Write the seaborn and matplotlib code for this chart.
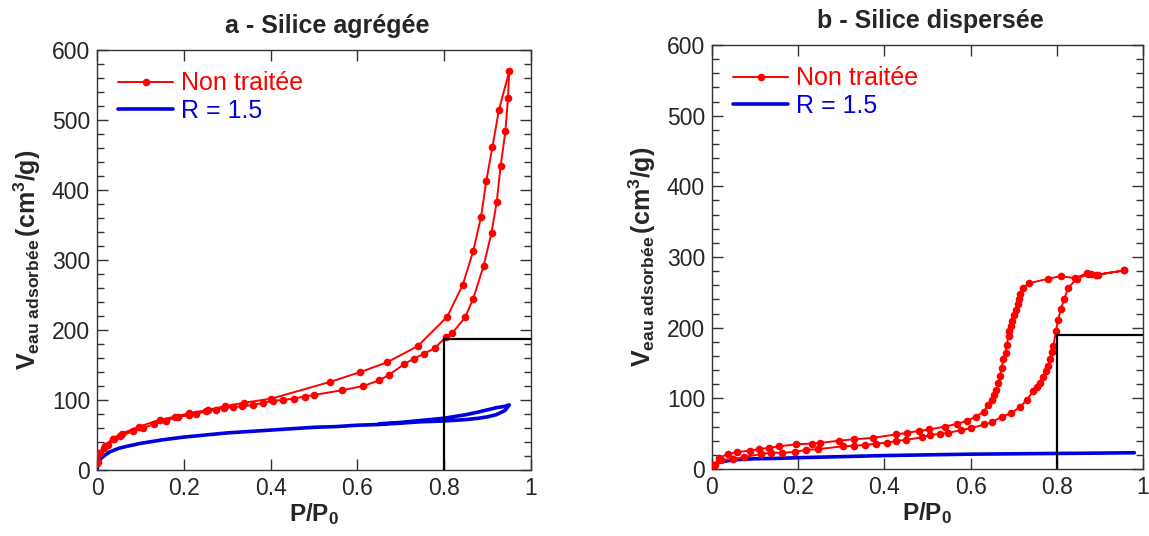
import numpy as np
import pandas as pd
import matplotlib
matplotlib.use("Agg")
import matplotlib.pyplot as plt
from matplotlib.ticker import MultipleLocator, FuncFormatter
import seaborn as sns

# ---------------- data ----------------
# Panel a - Silice agrégée, "Non traitée" (adsorption then desorption)
a_red_ads_x = [0.001, 0.005, 0.015, 0.026, 0.039, 0.054, 0.084, 0.107, 0.132, 0.159,
               0.187, 0.211, 0.228, 0.252, 0.275, 0.293, 0.314, 0.335, 0.360, 0.383,
               0.406, 0.429, 0.453, 0.479, 0.499, 0.565, 0.614, 0.650, 0.673, 0.707,
               0.730, 0.753, 0.778, 0.804, 0.819, 0.848, 0.867, 0.891, 0.909, 0.921,
               0.930, 0.941, 0.947]
a_red_ads_y = [10, 24, 31, 36, 44, 48, 56, 60, 66, 70,
               76, 78, 80, 84, 86, 89, 90, 91, 93, 96,
               99, 100, 102, 105, 107, 114, 120, 128, 136, 151,
               159, 166, 174, 190, 196, 218, 245, 292, 339, 383,
               434, 484, 532]
a_red_des_x = [0.950, 0.926, 0.911, 0.897, 0.885, 0.867, 0.843, 0.807, 0.739, 0.669,
               0.607, 0.538, 0.402, 0.338, 0.294, 0.256, 0.212, 0.179, 0.146, 0.097,
               0.057, 0.036, 0.018, 0.007, 0.002]
a_red_des_y = [570, 514, 461, 413, 362, 313, 265, 219, 177, 154,
               140, 126, 102, 96, 91, 86, 81, 76, 72, 62,
               52, 45, 34, 24, 12]

# Panel a, "R = 1.5"
a_blue_ads_x = [0, 0.002, 0.005, 0.01, 0.02, 0.03, 0.05, 0.07, 0.1, 0.15, 0.2, 0.25, 0.3,
                0.35, 0.4, 0.45, 0.5, 0.55, 0.6, 0.65, 0.7, 0.75, 0.8, 0.85, 0.88, 0.9,
                0.92, 0.94, 0.95]
a_blue_ads_y = [0, 8, 13, 17, 22, 26, 31, 34, 38, 43, 47, 50, 53, 55, 57, 59, 61, 62,
                64, 65, 67, 69, 70, 72, 74, 76, 79, 85, 93]
a_blue_des_x = [0.95, 0.94, 0.92, 0.9, 0.88, 0.85, 0.8, 0.75, 0.7, 0.65]
a_blue_des_y = [93, 91, 89, 86, 83, 79, 74, 71, 68, 66]

# Panel b - Silice dispersée, "Non traitée"
b_red_ads_x = [0.007, 0.022, 0.048, 0.075, 0.113, 0.136, 0.162, 0.192, 0.217, 0.245,
               0.303, 0.330, 0.356, 0.380, 0.405, 0.428, 0.450, 0.487, 0.506, 0.529,
               0.547, 0.578, 0.602, 0.632, 0.649, 0.672, 0.694, 0.715, 0.731, 0.745,
               0.753, 0.761, 0.768, 0.775, 0.780, 0.784, 0.788, 0.792, 0.798, 0.803,
               0.809, 0.817, 0.826, 0.846, 0.873, 0.892, 0.957]
b_red_ads_y = [6, 13, 14, 17, 21, 23, 23, 24, 27, 28,
               32, 33, 34, 36, 37, 40, 41, 45, 48, 50,
               51, 55, 58, 63, 66, 74, 79, 88, 98, 110,
               116, 122, 130, 138, 146, 155, 165, 174, 195, 211,
               226, 240, 256, 269, 276, 275, 281]
b_red_des_x = [0.957, 0.896, 0.879, 0.870, 0.842, 0.809, 0.779, 0.736, 0.722, 0.715,
               0.712, 0.709, 0.705, 0.701, 0.697, 0.693, 0.690, 0.688, 0.684, 0.681,
               0.676, 0.672, 0.668, 0.664, 0.660, 0.655, 0.649, 0.640, 0.630, 0.612,
               0.591, 0.569, 0.541, 0.504, 0.480, 0.452, 0.427, 0.373, 0.329, 0.295,
               0.251, 0.233, 0.195, 0.156, 0.132, 0.108, 0.088, 0.059, 0.036, 0.017,
               0.005]
b_red_des_y = [281, 275, 276, 277, 270, 273, 269, 263, 256, 247,
               240, 233, 225, 218, 210, 202, 195, 188, 176, 164,
               155, 143, 131, 121, 112, 105, 98, 90, 81, 74,
               68, 64, 60, 56, 54, 51, 49, 44, 42, 40,
               37, 36, 35, 32, 30, 28, 26, 24, 21, 16,
               5]

# Panel b, "R = 1.5"
b_blue_x = [0, 0.005, 0.01, 0.02, 0.03, 0.05, 0.08, 0.1, 0.15, 0.2, 0.3, 0.4, 0.5,
            0.6, 0.7, 0.8, 0.9, 0.98]
b_blue_y = [0, 5, 8, 10, 11, 13, 14, 14.5, 15, 16, 17.5, 19, 20, 21, 21.5, 22, 22.5, 23]

# black corner marks (zoom box outline)
box_x = [0.8, 0.8, 1.0]
box_a_y = [0, 187, 187]
box_b_y = [0, 189, 189]

titles = ["a - Silice agrégée", "b - Silice dispersée"]
legend_labels = ["Non traitée", "R = 1.5"]
xticks = [0, 0.2, 0.4, 0.6, 0.8, 1.0]
yticks = [0, 100, 200, 300, 400, 500, 600]

RED = "#ff0000"
BLUE = "#0000dd"

# ---------------- style ----------------
sns.set_style("ticks")
plt.rcParams["font.family"] = ["Liberation Sans", "DejaVu Sans"]
plt.rcParams["mathtext.fontset"] = "custom"
plt.rcParams["mathtext.rm"] = "Liberation Sans"
plt.rcParams["mathtext.bf"] = "Liberation Sans:bold"
plt.rcParams["mathtext.it"] = "Liberation Sans:italic"

fig = plt.figure(figsize=(11.49, 5.36), dpi=100)
ax_a = fig.add_axes([97 / 1149, 66 / 536, 434 / 1149, 420 / 536])
ax_b = fig.add_axes([712 / 1149, 67 / 536, 431 / 1149, 424 / 536])


def loop_df(x1, y1, x2, y2):
    return pd.DataFrame({"x": list(x1) + list(x2), "y": list(y1) + list(y2)})


def draw(ax, red_df, blue_df, box_y, title, title_x):
    sns.lineplot(data=blue_df, x="x", y="y", sort=False, estimator=None, ax=ax,
                 color=BLUE, lw=2.6, label=legend_labels[1], zorder=2)
    sns.lineplot(data=red_df, x="x", y="y", sort=False, estimator=None, ax=ax,
                 color=RED, lw=1.4, marker="o", markersize=5.5, markeredgewidth=0,
                 label=legend_labels[0], zorder=3)
    ax.plot(box_x, box_y, color="black", lw=1.6, zorder=4)
    ax.set_xlim(0, 1)
    ax.set_ylim(0, 600)
    ax.set_xticks(xticks)
    ax.set_yticks(yticks)
    ax.yaxis.set_minor_locator(MultipleLocator(20))
    ax.xaxis.set_major_formatter(FuncFormatter(lambda v, p: f"{v:g}"))
    ax.tick_params(which="both", direction="in", top=True, right=True,
                   labelsize=16.5, color="#333333", pad=5)
    ax.tick_params(which="major", length=8, width=1)
    ax.tick_params(which="minor", length=5, width=1)
    for s in ax.spines.values():
        s.set_visible(True)
        s.set_linewidth(1.0)
        s.set_color("#333333")
    ax.set_xlabel(r"$\mathbf{P/P_0}$", fontsize=17.5, labelpad=1)
    ax.set_ylabel(r"$\mathbf{V_{eau\ adsorbée}\,(cm^3/g)}$", fontsize=18, labelpad=6)
    ax.set_title(title, fontsize=18, fontweight="bold", pad=12, x=title_x)
    handles, labels = ax.get_legend_handles_labels()
    order = [labels.index(legend_labels[0]), labels.index(legend_labels[1])]
    leg = ax.legend([handles[i] for i in order], [labels[i] for i in order],
                    loc="upper left", frameon=False, fontsize=18,
                    handlelength=2.2, handletextpad=0.3, labelspacing=0.15,
                    borderaxespad=0.45)
    for t, c in zip(leg.get_texts(), [RED, BLUE]):
        t.set_color(c)


red_a = loop_df(a_red_ads_x, a_red_ads_y, a_red_des_x, a_red_des_y)
blue_a = loop_df(a_blue_ads_x, a_blue_ads_y, a_blue_des_x, a_blue_des_y)
red_b = loop_df(b_red_ads_x, b_red_ads_y, b_red_des_x, b_red_des_y)
blue_b = pd.DataFrame({"x": b_blue_x, "y": b_blue_y})

draw(ax_a, red_a, blue_a, box_a_y, titles[0], 0.53)
draw(ax_b, red_b, blue_b, box_b_y, titles[1], 0.506)

fig.savefig("out.png", dpi=100)
